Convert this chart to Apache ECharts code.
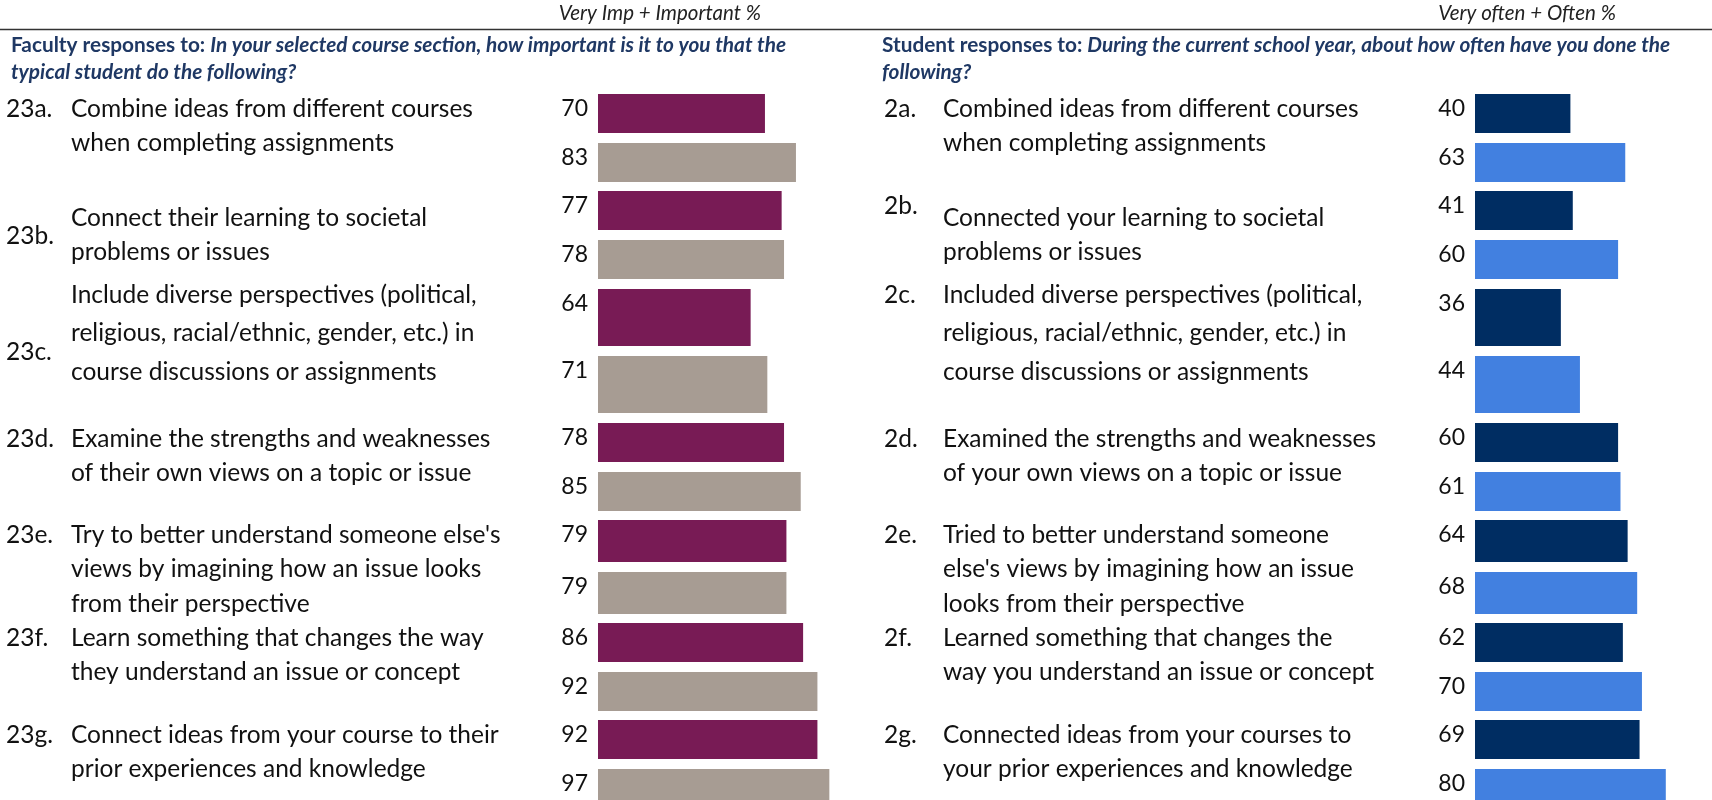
<!DOCTYPE html>
<html>
<head>
<meta charset="utf-8">
<script src="https://cdn.jsdelivr.net/npm/echarts@6/dist/echarts.min.js"></script>
<style>
  html, body { margin: 0; padding: 0; background: #fff; }
  #chart { width: 1712px; height: 800px; }
</style>
</head>
<body>
<div id="chart"></div>
<script>
// ---- Data ----
const facultyIds = ['23a.', '23b.', '23c.', '23d.', '23e.', '23f.', '23g.'];
const facultyItems = [
  'Combine ideas from different courses\nwhen completing assignments',
  'Connect their learning to societal\nproblems or issues',
  'Include diverse perspectives (political,\nreligious, racial/ethnic, gender, etc.) in\ncourse discussions or assignments',
  'Examine the strengths and weaknesses\nof their own views on a topic or issue',
  "Try to better understand someone else's\nviews by imagining how an issue looks\nfrom their perspective",
  'Learn something that changes the way\nthey understand an issue or concept',
  'Connect ideas from your course to their\nprior experiences and knowledge'
];
const facultyValues = [70, 77, 64, 78, 79, 86, 92];
const facultyCompare = [83, 78, 71, 85, 79, 92, 97];

const studentIds = ['2a.', '2b.', '2c.', '2d.', '2e.', '2f.', '2g.'];
const studentItems = [
  'Combined ideas from different courses\nwhen completing assignments',
  'Connected your learning to societal\nproblems or issues',
  'Included diverse perspectives (political,\nreligious, racial/ethnic, gender, etc.) in\ncourse discussions or assignments',
  'Examined the strengths and weaknesses\nof your own views on a topic or issue',
  "Tried to better understand someone\nelse's views by imagining how an issue\nlooks from their perspective",
  'Learned something that changes the\nway you understand an issue or concept',
  'Connected ideas from your courses to\nyour prior experiences and knowledge'
];
const studentValues = [40, 41, 36, 60, 64, 62, 69];
const studentCompare = [63, 60, 44, 61, 68, 70, 80];

const facultyHeading = ['Faculty responses to: ', 'In your selected course section, how important is it to you that the', 'typical student do the following?'];
const studentHeading = ['Student responses to: ', 'During the current school year, about how often have you done the', 'following?'];
const facultyScaleLabel = 'Very Imp + Important %';
const studentScaleLabel = 'Very often + Often %';

// ---- Layout ----
const rowLayout = [
  { top: 94,  bar: 39, text: 109, id: 109, sid: 109, lh: 34.5 },
  { top: 191, bar: 39, text: 218, id: 236, sid: 206, lh: 34.5 },
  { top: 289, bar: 57, text: 295, id: 352, sid: 295, lh: 38.5 },
  { top: 423, bar: 39, text: 439, id: 439, sid: 439, lh: 34.5 },
  { top: 520, bar: 42, text: 535, id: 535, sid: 535, lh: 34.5 },
  { top: 623, bar: 39, text: 638, id: 638, sid: 638, lh: 34.5 },
  { top: 720, bar: 39, text: 735, id: 735, sid: 735, lh: 34.5 }
];
const GAP = 10;
const panels = [
  { ids: facultyIds, items: facultyItems, a: facultyValues, b: facultyCompare,
    colors: ['#781B55', '#A79C93'], barLeft: 598, idX: 6, textX: 71, headX: 11, scaleRight: 761,
    heading: facultyHeading, scaleLabel: facultyScaleLabel, idKey: 'id' },
  { ids: studentIds, items: studentItems, a: studentValues, b: studentCompare,
    colors: ['#002D62', '#4280E0'], barLeft: 1475, idX: 884, textX: 943, headX: 882, scaleRight: 1616,
    heading: studentHeading, scaleLabel: studentScaleLabel, idKey: 'sid' }
];
const SCALE_W = 238.5; // pixels for 0..100
const FONT = 'Lato, "Noto Sans", sans-serif';
const TEXT_SIZE = 24.5;
const NAVY = '#1F3864';

const grid = [], xAxis = [], yAxis = [], series = [], graphic = [];

panels.forEach((p) => {
  rowLayout.forEach((r, i) => {
    const gi = grid.length;
    grid.push({
      left: p.barLeft, width: SCALE_W, top: r.top - GAP / 2, height: 2 * (r.bar + GAP),
      outerBoundsMode: 'none'
    });
    xAxis.push({ type: 'value', gridIndex: gi, min: 0, max: 100, show: false });
    yAxis.push({ type: 'category', gridIndex: gi, inverse: true, data: ['a', 'b'], show: false });
    series.push({
      type: 'bar', xAxisIndex: gi, yAxisIndex: gi, barWidth: r.bar,
      data: [
        { value: p.a[i], itemStyle: { color: p.colors[0] } },
        { value: p.b[i], itemStyle: { color: p.colors[1] } }
      ],
      label: {
        show: true, position: [-10, 15], align: 'right', verticalAlign: 'middle',
        fontFamily: FONT, fontSize: 23, color: '#111'
      },
      silent: true
    });

    // item number and wrapped item text
    graphic.push({
      type: 'text', left: p.idX, top: r[p.idKey] - r.lh / 2,
      style: { text: p.ids[i], font: TEXT_SIZE + 'px ' + FONT, fill: '#111', lineHeight: r.lh, verticalAlign: 'top' }
    });
    graphic.push({
      type: 'text', left: p.textX, top: r.text - r.lh / 2,
      style: { text: p.items[i], font: TEXT_SIZE + 'px ' + FONT, fill: '#111', lineHeight: r.lh, verticalAlign: 'top' }
    });
  });

  // heading
  graphic.push({
    type: 'text', left: p.headX, top: 32,
    style: {
      text: '{b|' + p.heading[0] + '}{bi|' + p.heading[1] + '}\n{bi|' + p.heading[2] + '}',
      lineHeight: 27,
      rich: {
        b: { fontFamily: FONT, fontWeight: 'bold', fontSize: 20.8, fill: NAVY, lineHeight: 27 },
        bi: { fontFamily: FONT, fontWeight: 'bold', fontStyle: 'italic', fontSize: 20.8, fill: NAVY, lineHeight: 27 }
      }
    }
  });
  // scale caption
  graphic.push({
    type: 'text', right: 1712 - p.scaleRight, top: 3,
    style: { text: p.scaleLabel, font: 'italic 20.5px ' + FONT, fill: '#222' }
  });
});

// rule under the captions
graphic.push({
  type: 'line', shape: { x1: 0, y1: 29.5, x2: 1712, y2: 29.5 },
  style: { stroke: '#333', lineWidth: 1.5 }
});

const chart = echarts.init(document.getElementById('chart'), null, { renderer: 'canvas' });
chart.setOption({
  animation: false,
  backgroundColor: '#fff',
  grid, xAxis, yAxis, series, graphic
});
</script>
</body>
</html>
